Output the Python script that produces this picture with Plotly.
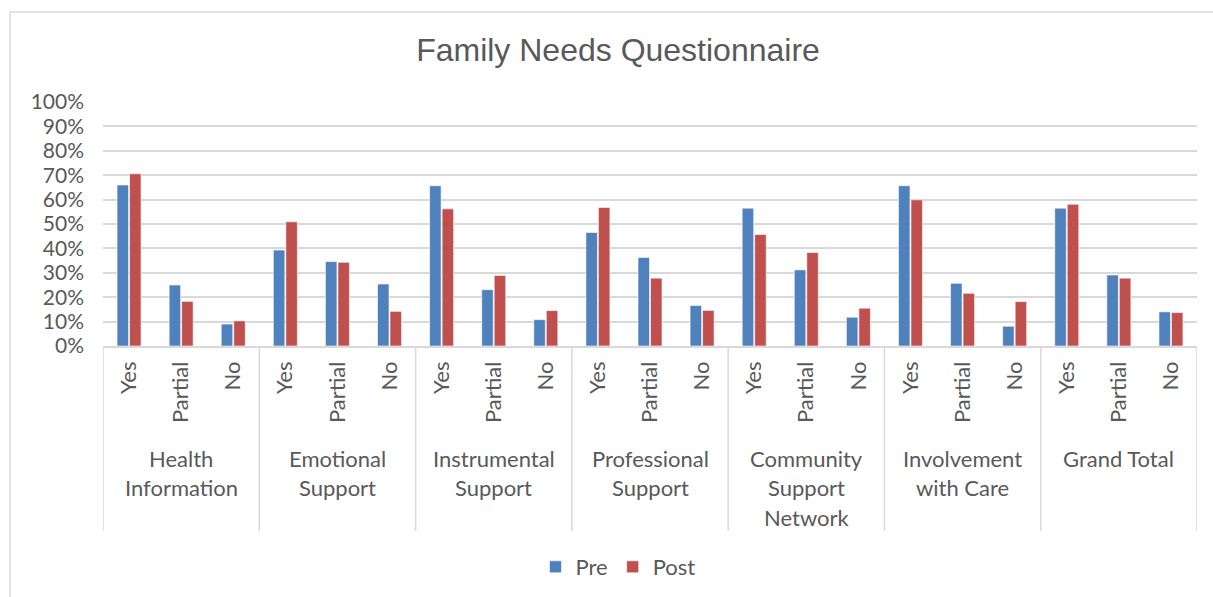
import plotly.graph_objects as go

groups = ["Health<br>Information", "Emotional<br>Support", "Instrumental<br>Support",
          "Professional<br>Support", "Community<br>Support<br>Network",
          "Involvement<br>with Care", "Grand Total"]
answers = ["Yes", "Partial", "No"]

pre = [0.66, 0.25, 0.09,
       0.393, 0.346, 0.254,
       0.657, 0.231, 0.108,
       0.465, 0.363, 0.166,
       0.565, 0.312, 0.118,
       0.657, 0.257, 0.081,
       0.565, 0.291, 0.14]
post = [0.706, 0.183, 0.103,
        0.509, 0.343, 0.142,
        0.562, 0.289, 0.145,
        0.568, 0.278, 0.146,
        0.457, 0.383, 0.155,
        0.599, 0.216, 0.182,
        0.581, 0.278, 0.137]

W, H = 1213, 597
ML, MR, MT, MB = 103, 16, 102, 251
PW, PH = W - ML - MR, H - MT - MB

cats = [f"{g}|{a}" for g in groups for a in answers]
ticktext = [a for g in groups for a in answers]

TXT = "#595959"
GRID = "#D9D9D9"
FONT = "Lato"

fig = go.Figure()
fig.add_trace(go.Bar(name="Pre", x=cats, y=pre, marker=dict(color="#4F81BD", line=dict(color="white", width=0.6))))
fig.add_trace(go.Bar(name="Post", x=cats, y=post, marker=dict(color="#C0504D", line=dict(color="white", width=0.6))))

def py(pix):
    return (H - MB - pix) / PH

def px(pix):
    return (pix - ML) / PW

shapes = []
n = len(answers)
for i in range(len(groups) + 1):
    xb = i * n - 0.5
    shapes.append(dict(type="line", xref="x", yref="paper", x0=xb, x1=xb,
                       y0=0, y1=py(531), line=dict(color=GRID, width=1.5)))
# chart border
shapes.append(dict(type="rect", xref="paper", yref="paper", x0=px(10), x1=px(W + 50),
                   y0=py(H + 50), y1=py(12), line=dict(color=GRID, width=1.5),
                   fillcolor="rgba(0,0,0,0)", layer="below"))

annotations = []
for gi, g in enumerate(groups):
    lines = g.split("<br>")
    for li, line in enumerate(lines):
        annotations.append(dict(text=line, xref="x", yref="paper", x=gi * n + 1,
                                y=py(458 + 29.5 * li), xanchor="center", yanchor="middle",
                                showarrow=False, font=dict(family=FONT, size=22, color=TXT)))

fig.update_layout(
    width=W, height=H,
    margin=dict(l=ML, r=MR, t=MT, b=MB, autoexpand=False),
    paper_bgcolor="white", plot_bgcolor="white",
    barmode="group", bargap=0.52, bargroupgap=0.08,
    title=dict(text="Family Needs Questionnaire", x=618 / W, xref="container", xanchor="center",
               y=1 - 50 / H, yref="container", yanchor="middle",
               font=dict(family="Liberation Sans", size=32, color=TXT)),
    xaxis=dict(type="category", tickmode="array", tickvals=cats, ticktext=ticktext,
               tickangle=-90, tickfont=dict(family=FONT, size=22, color=TXT),
               showgrid=False, showline=True, linecolor=GRID, linewidth=1.5, ticks="",
               ticklabelstandoff=5, range=[-0.5, len(cats) - 0.5]),
    yaxis=dict(range=[0, 1], dtick=0.1, tickformat=".0%", showgrid=True, gridcolor=GRID,
               gridwidth=1.5, zeroline=False, showline=False, ticks="",
               tickfont=dict(family=FONT, size=21, color=TXT), ticklabelstandoff=18),
    legend=dict(orientation="h", x=px(618), xanchor="center", y=py(567), yanchor="middle",
                font=dict(family=FONT, size=22, color=TXT), itemwidth=30, tracegroupgap=0),
    shapes=shapes, annotations=annotations,
)

fig.write_html("out.html")
